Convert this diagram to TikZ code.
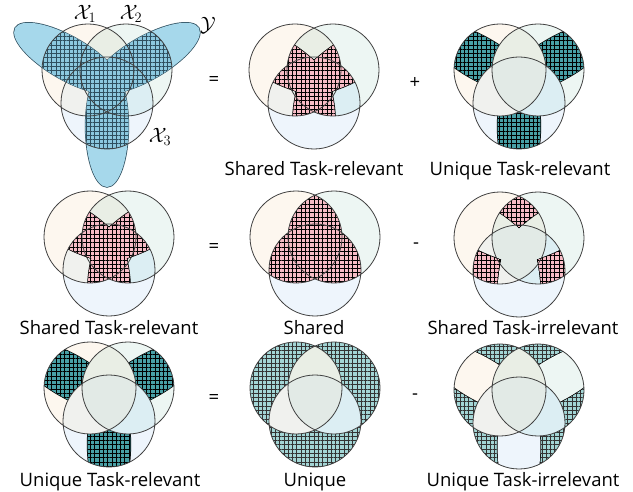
\documentclass[tikz,border=0pt]{standalone}
\usepackage{fontspec}
\setmainfont{Open Sans}
\usetikzlibrary{patterns.meta}
\definecolor{ca}{HTML}{FDF7EF}
\definecolor{cb}{HTML}{EDF6F3}
\definecolor{cc}{HTML}{EEF5FC}
\definecolor{cab}{HTML}{E9EEE5}
\definecolor{cac}{HTML}{F0F1EE}
\definecolor{cbc}{HTML}{DCEEF3}
\definecolor{cabc}{HTML}{E2EAE6}
\definecolor{armc}{HTML}{A6D8EB}
\definecolor{armh}{HTML}{8CC8DF}
\definecolor{armgrid}{HTML}{2F4F5F}
\definecolor{pinkc}{HTML}{F7BCC6}
\definecolor{tealc}{HTML}{48A0A6}
\definecolor{teall}{HTML}{A3D5D5}
\definecolor{circline}{HTML}{404040}
\tikzset{
  circ/.style={draw=circline, line width=0.8pt},
  armline/.style={draw=armgrid, line width=1.5pt},
  regline/.style={draw=black, line width=1.5pt},
  gridpat/.style={pattern={Hatch[distance=4.3pt,line width=0.45pt]}},
  armhatch/.style={preaction={fill=armh}, gridpat, pattern color=armgrid},
  pinkhatch/.style={preaction={fill=pinkc}, gridpat, pattern color=black},
  tealhatch/.style={preaction={fill=tealc}, gridpat, pattern color=black},
  teallhatch/.style={preaction={fill=teall}, gridpat, pattern color=black!80},
  lbl/.style={font=\fontsize{18.5}{22}\selectfont, anchor=base, inner sep=0pt},
  op/.style={font=\fontsize{18.5}{22}\selectfont, inner sep=0pt},
  mlbl/.style={font=\fontsize{21}{24}\selectfont, inner sep=0pt}
}
\def\cA{(-19,-11) circle [radius=46]}
\def\cB{(19,-11) circle [radius=46]}
\def\cC{(0,22) circle [radius=46]}
\def\arms{(-39.4,-22.75) circle [x radius=60.5, y radius=21.4, rotate=150]
 (39.4,-22.75) circle [x radius=60.5, y radius=21.4, rotate=30]
 (0,45.5) circle [x radius=60.5, y radius=21.4, rotate=90]}
\newcommand\singlepaint{\fill[ca] \cA; \fill[cb] \cB; \fill[cc] \cC;}
\newcommand\pairpaint{%
  \begin{scope}\clip \cA; \fill[cab] \cB; \fill[cac] \cC; \end{scope}
  \begin{scope}\clip \cB; \fill[cbc] \cC; \end{scope}
  \begin{scope}\clip \cA; \clip \cB; \fill[cabc] \cC; \end{scope}}
\newcommand\basepaint{\singlepaint\pairpaint}
\newcommand\outlines{\path[circ] \cA \cB \cC;}
% do #1 (a path command) in each pairwise intersection
\newcommand\inpairs[1]{%
  \begin{scope}\clip \cA; \clip \cB; #1 \end{scope}
  \begin{scope}\clip \cA; \clip \cC; #1 \end{scope}
  \begin{scope}\clip \cB; \clip \cC; #1 \end{scope}}
\newcommand\incircles[1]{%
  \begin{scope}\clip \cA; #1 \end{scope}
  \begin{scope}\clip \cB; #1 \end{scope}
  \begin{scope}\clip \cC; #1 \end{scope}}
\newcommand\sharedrel{%
  \basepaint
  \inpairs{\path[regline] \arms;}
  \inpairs{\fill[pinkhatch] \arms;}
  \outlines}
\newcommand\uniquerel{%
  \singlepaint
  \incircles{\path[regline] \arms;}
  \incircles{\fill[tealhatch] \arms;}
  \pairpaint
  \outlines}
\begin{document}
\begin{tikzpicture}[x=1pt,y=-1pt]
\useasboundingbox (0,0) rectangle (633,492);
\fill[white] (0,0) rectangle (633,492);
% Panel 1: X1, X2, X3 and Y
\begin{scope}[shift={(107,81)}]
  \basepaint
  \path[armline] \arms;
  \fill[armc] \arms;
  \incircles{\fill[armhatch] \arms;}
  \outlines
\end{scope}
\node[mlbl] (x1) at (85,14) {$\mathcal{X}_1$};
\node[mlbl] (x2) at (131,14) {$\mathcal{X}_2$};
\node[mlbl] (yy) at (208,25) {$\mathcal{Y}$};
\node[mlbl] (x3) at (160,137) {$\mathcal{X}_3$};
% Panel 2
\begin{scope}[shift={(314,81)}] \sharedrel \end{scope}
% Panel 3
\begin{scope}[shift={(519,81)}] \uniquerel \end{scope}
% Panel 4
\begin{scope}[shift={(109,248)}] \sharedrel \end{scope}
% Panel 5: Shared
\begin{scope}[shift={(315,248)}]
  \basepaint
  \inpairs{\fill[pinkhatch] (-100,-100) rectangle (100,100);}
  \outlines
\end{scope}
% Panel 6: Shared task-irrelevant
\begin{scope}[shift={(519,249)}]
  \basepaint
  \inpairs{\fill[pinkhatch] (-100,-100) rectangle (100,100);}
  \inpairs{\path[regline] \arms;}
  \begin{scope}\clip \arms; \pairpaint \end{scope}
  \outlines
\end{scope}
% Panel 7
\begin{scope}[shift={(109,399)}] \uniquerel \end{scope}
% Panel 8: Unique
\begin{scope}[shift={(315,399)}]
  \fill[teallhatch] \cA \cB \cC;
  \pairpaint
  \outlines
\end{scope}
% Panel 9: Unique task-irrelevant
\begin{scope}[shift={(519,401)}]
  \fill[teallhatch] \cA \cB \cC;
  \incircles{\path[regline] \arms;}
  \begin{scope}\clip \arms; \singlepaint \end{scope}
  \pairpaint
  \outlines
\end{scope}
% operators
\node[op] (eq1) at (214,81) {=};
\node[op] (pl1) at (415,83) {+};
\node[op] (eq2) at (214,248) {=};
\node[op] (mi2) at (416,246) {-};
\node[op] (eq3) at (214,399) {=};
\node[op] (mi3) at (415,397) {-};
% labels
\node[lbl] (l2) at (314,176) {Shared Task-relevant};
\node[lbl] (l3) at (520,176) {Unique Task-relevant};
\node[lbl] (l4) at (109,335) {Shared Task-relevant};
\node[lbl] (l5) at (314,335) {Shared};
\node[lbl] (l6) at (523,335) {Shared Task-irrelevant};
\node[lbl] (l7) at (110,486) {Unique Task-relevant};
\node[lbl] (l8) at (315,486) {Unique};
\node[lbl] (l9) at (523,486) {Unique Task-irrelevant};
\end{tikzpicture}
\end{document}
